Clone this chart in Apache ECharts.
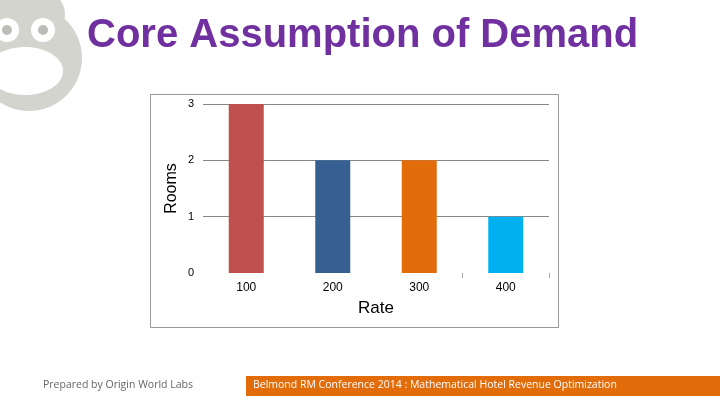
<!DOCTYPE html>
<html>
<head>
<meta charset="utf-8">
<script src="https://cdn.jsdelivr.net/npm/echarts@6/dist/echarts.min.js"></script>
<style>html,body{margin:0;padding:0;background:#fff;}#c{width:720px;height:405px;}</style>
</head>
<body>
<div id="c"></div>
<script>
const titleText = 'Core Assumption of Demand';
const categories = ['100', '200', '300', '400'];
const rooms = [3, 2, 2, 1];
const barColors = ['#c0504d', '#376092', '#e36c0a', '#00b0f0'];
const boundaryTicks = [3, 4];
const xName = 'Rate';
const yName = 'Rooms';
const footerLeft = 'Prepared by Origin World Labs';
const footerRight = 'Belmond RM Conference 2014 : Mathematical Hotel Revenue Optimization';

const chart = echarts.init(document.getElementById('c'), null, {renderer: 'canvas'});
const font = '"Liberation Sans", Arial, sans-serif';
const footFont = '"Open Sans", "Noto Sans", sans-serif';
const owlGray = '#d4d4cf';

chart.setOption({
  backgroundColor: '#ffffff',
  animation: false,
  title: {
    text: titleText,
    left: 82, top: 11,
    textStyle: {color: '#7030a0', fontSize: 40, fontWeight: 'bold', fontFamily: font}
  },
  grid: {left: 203, right: 171, top: 104, bottom: 132},
  xAxis: [{
    type: 'category',
    data: categories,
    name: xName, nameLocation: 'middle', nameGap: 27,
    nameTextStyle: {fontSize: 17, color: '#000', fontFamily: font},
    axisLine: {show: false},
    axisTick: {show: false},
    axisLabel: {fontSize: 12, color: '#000', fontFamily: font, margin: 9}
  }, {
    type: 'value', min: 0, max: categories.length, position: 'bottom',
    axisLine: {show: false},
    axisLabel: {show: false},
    splitLine: {show: false},
    axisTick: {show: true, customValues: boundaryTicks, length: 5, lineStyle: {color: '#aaa'}}
  }],
  yAxis: {
    type: 'value', min: 0, max: 3, interval: 1,
    name: yName, nameLocation: 'middle', nameGap: 23, nameRotate: 90,
    nameTextStyle: {fontSize: 16, color: '#000', fontFamily: font},
    axisLine: {show: false},
    axisTick: {show: false},
    axisLabel: {fontSize: 11, color: '#000', fontFamily: font, margin: 9},
    splitLine: {show: true, showMinLine: false, lineStyle: {color: '#888', width: 1}}
  },
  series: [{
    type: 'bar',
    xAxisIndex: 0,
    barWidth: 35,
    data: rooms.map((v, i) => ({value: v, itemStyle: {color: barColors[i]}}))
  }],
  graphic: [
    {type: 'rect', shape: {x: 150.5, y: 94.5, width: 408, height: 233}, style: {fill: 'none', stroke: '#999', lineWidth: 1}, z: -1},
    {type: 'circle', shape: {cx: 29, cy: 58, r: 53}, style: {fill: owlGray}, z: -3},
    {type: 'ellipse', shape: {cx: 24, cy: 14, rx: 41, ry: 30}, style: {fill: owlGray}, z: -3},
    {type: 'ellipse', shape: {cx: 25, cy: 71, rx: 38, ry: 24}, style: {fill: '#ffffff'}, z: -2},
    {type: 'circle', shape: {cx: 7, cy: 30, r: 12}, style: {fill: '#ffffff'}, z: -2},
    {type: 'circle', shape: {cx: 43, cy: 30, r: 12}, style: {fill: '#ffffff'}, z: -2},
    {type: 'circle', shape: {cx: 7, cy: 30, r: 5}, style: {fill: '#bdbdb8'}, z: -1},
    {type: 'circle', shape: {cx: 43, cy: 30, r: 5}, style: {fill: '#bdbdb8'}, z: -1},
    {type: 'text', left: 43, top: 380, style: {text: footerLeft, fill: '#666', fontSize: 10.5, fontFamily: footFont}},
    {type: 'rect', shape: {x: 246, y: 376, width: 474, height: 20}, style: {fill: '#e36c0a'}},
    {type: 'text', left: 253, top: 380, style: {text: footerRight, fill: '#fff', fontSize: 10.5, fontFamily: footFont}, z: 10}
  ]
});
</script>
</body>
</html>
